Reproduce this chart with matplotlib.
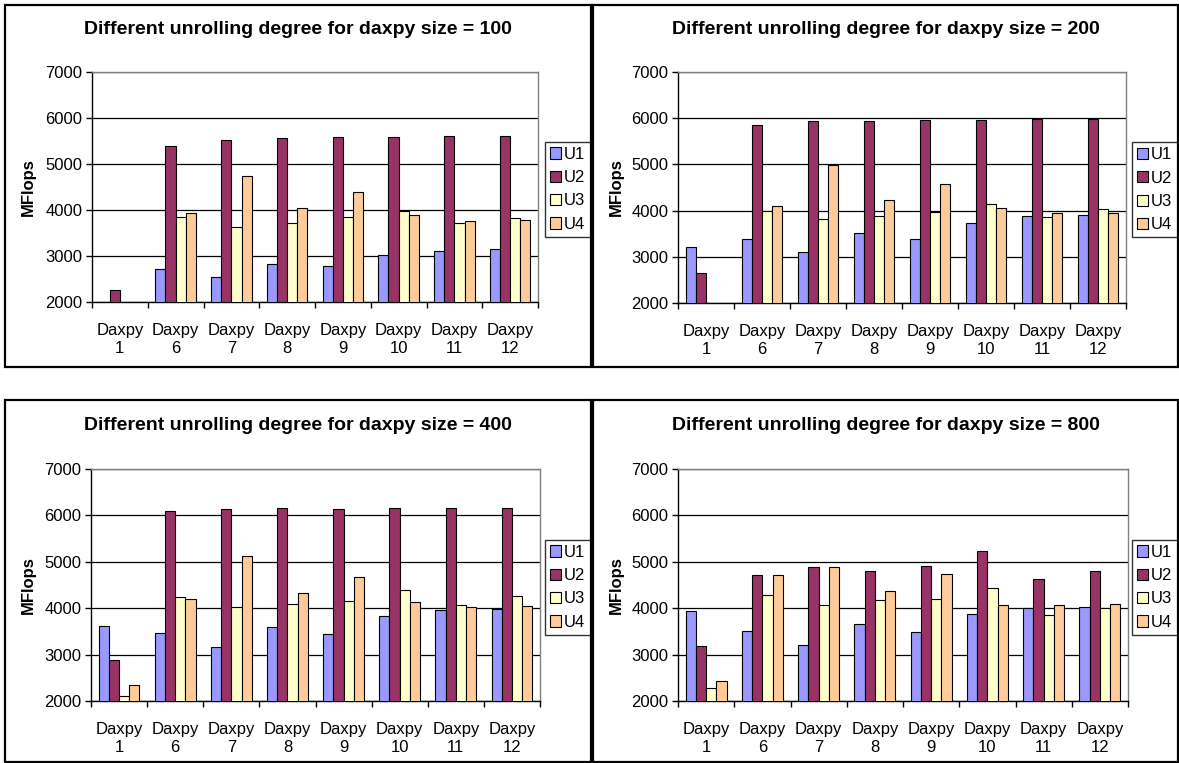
import numpy as np
import matplotlib
matplotlib.use("Agg")
import matplotlib.pyplot as plt
from matplotlib.patches import Rectangle, Patch

plt.rcParams['font.family'] = ['Liberation Sans', 'DejaVu Sans']

categories = ["Daxpy\n1", "Daxpy\n6", "Daxpy\n7", "Daxpy\n8",
              "Daxpy\n9", "Daxpy\n10", "Daxpy\n11", "Daxpy\n12"]
series_names = ["U1", "U2", "U3", "U4"]
colors = ["#9999FF", "#993366", "#FFFFCC", "#FFCC99"]
sizes = [100, 200, 400, 800]

nan = np.nan
# size = 100
s100_U1 = [nan, 2725, 2551, 2833, 2783, 3015, 3116, 3145]
s100_U2 = [2268, 5399, 5529, 5558, 5587, 5594, 5616, 5616]
s100_U3 = [nan, 3855, 3638, 3725, 3855, 3971, 3725, 3833]
s100_U4 = [nan, 3935, 4739, 4051, 4384, 3891, 3768, 3775]
# size = 200
s200_U1 = [3212, 3384, 3105, 3521, 3377, 3736, 3887, 3908]
s200_U2 = [2660, 5859, 5931, 5945, 5953, 5967, 5974, 5974]
s200_U3 = [nan, 3994, 3808, 3887, 3959, 4145, 3872, 4037]
s200_U4 = [nan, 4109, 4991, 4238, 4575, 4059, 3944, 3951]
# size = 400
s400_U1 = [3626, 3460, 3158, 3604, 3453, 3827, 3964, 3986]
s400_U2 = [2892, 6101, 6137, 6151, 6144, 6158, 6158, 6165]
s400_U3 = [2115, 4237, 4022, 4101, 4165, 4388, 4065, 4259]
s400_U4 = [2353, 4194, 5115, 4331, 4669, 4144, 4029, 4043]
# size = 800
s800_U1 = [3944, 3514, 3205, 3657, 3490, 3870, 4010, 4030]
s800_U2 = [3191, 4712, 4898, 4791, 4920, 5240, 4620, 4800]
s800_U3 = [2280, 4288, 4073, 4170, 4200, 4440, 3850, 4010]
s800_U4 = [2430, 4705, 4898, 4380, 4730, 4060, 4070, 4090]

panel_data = [
    [s100_U1, s100_U2, s100_U3, s100_U4],
    [s200_U1, s200_U2, s200_U3, s200_U4],
    [s400_U1, s400_U2, s400_U3, s400_U4],
    [s800_U1, s800_U2, s800_U3, s800_U4],
]
yticks = [2000, 3000, 4000, 5000, 6000, 7000]

W, H = 1179, 763
fig = plt.figure(figsize=(W / 100, H / 100), dpi=100)


def frac_rect(l, r, t, b):
    return [l / W, 1 - b / H, (r - l) / W, (b - t) / H]


# panel frames (pixels): left, right, top, bottom
frames = [(5, 591, 5, 367), (593, 1178, 5, 367),
          (5, 591, 400, 762), (593, 1178, 400, 762)]
axes_px = [(92, 538, 72, 302), (678, 1126, 72, 303),
           (91, 540, 469, 701), (678, 1128, 469, 701)]

for i in range(4):
    fl, fr, ft, fb = frames[i]
    fig.patches.append(Rectangle((fl / W, 1 - fb / H), (fr - fl) / W, (fb - ft) / H,
                                 transform=fig.transFigure, fill=False,
                                 edgecolor="black", linewidth=1.6, zorder=0))
    l, r, t, b = axes_px[i]
    ax = fig.add_axes(frac_rect(l, r, t, b))
    x = np.arange(len(categories))
    w = 1 / 5.5
    for k, (vals, name, col) in enumerate(zip(panel_data[i], series_names, colors)):
        vals = np.array(vals, dtype=float)
        mask = ~np.isnan(vals)
        off = (k - 1.5) * w
        ax.bar(x[mask] + off, vals[mask], width=w, color=col, edgecolor="black",
               linewidth=0.8, zorder=3, label=name)
    ax.set_ylim(2000, 7000)
    ax.set_xlim(-0.5, len(categories) - 0.5)
    ax.set_yticks(yticks)
    ax.set_yticklabels([str(v) for v in yticks], fontsize=12)
    ax.set_xticks(x)
    ax.set_xticklabels(categories, fontsize=12, linespacing=1.25)
    ax.tick_params(axis='x', length=0, pad=15)
    ax.set_xticks(np.arange(len(categories) + 1) - 0.5, minor=True)
    ax.tick_params(axis='x', which='minor', length=4, width=1, color="black", direction='out')
    ax.tick_params(axis='y', length=4, width=1, direction='out', pad=3)
    ax.grid(axis='y', color="black", linewidth=0.9, zorder=1)
    ax.set_axisbelow(True)
    for s in ['top', 'right']:
        ax.spines[s].set_color("#808080")
        ax.spines[s].set_linewidth(1.0)
    for s in ['left', 'bottom']:
        ax.spines[s].set_color("black")
        ax.spines[s].set_linewidth(1.0)

    cx = (fl + fr) / 2
    fig.text(cx / W, 1 - (ft + 25) / H,
             "Different unrolling degree for daxpy size = %d" % sizes[i],
             ha='center', va='center', fontsize=14, fontweight='bold')
    fig.text((fl + 23) / W, 1 - ((t + b) / 2) / H, "MFlops", rotation=90,
             ha='center', va='center', fontsize=12, fontweight='bold')

    handles = [Patch(facecolor=c, edgecolor="black", linewidth=0.8) for c in colors]
    leg = ax.legend(handles, series_names, loc='center left',
                    bbox_to_anchor=((fr - 46 - l) / (r - l), 0.49),
                    bbox_transform=ax.transAxes,
                    fontsize=12, frameon=True, fancybox=False, shadow=False,
                    handlelength=0.65, handleheight=0.65, handletextpad=0.2,
                    borderpad=0.3, labelspacing=0.5, borderaxespad=0)
    leg.get_frame().set_edgecolor("black")
    leg.get_frame().set_linewidth(1.0)

fig.savefig("out.png", dpi=100)
